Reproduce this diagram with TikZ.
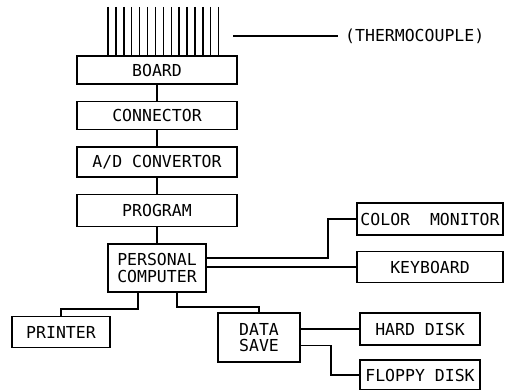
\documentclass[tikz,border=0pt]{standalone}
\usepackage{fontspec}
\setmonofont{DejaVu Sans Mono}
\usetikzlibrary{positioning}

\begin{document}
\begin{tikzpicture}[
    x=1pt, y=-1pt,
    every node/.style={font=\ttfamily\fontsize{16.5}{16.5}\selectfont},
    unit/.style={
      rectangle, draw, line width=1.5pt,
      inner sep=2pt, align=center,
      minimum height=28pt
    },
    wide/.style={unit, minimum width=160pt},
    link/.style={line width=1.5pt},
    wire/.style={line width=1.4pt},
  ]
  \useasboundingbox (0,0) rectangle (508,390);

  % --- Measuring chain ---
  \node[wide] (board) at (157,70) {BOARD};
  \node[wide, below=16pt of board] (connector) {CONNECTOR};
  \node[wide, below=16pt of connector, minimum height=30pt] (adconv) {A/D CONVERTOR};
  \node[wide, below=16pt of adconv, minimum height=32pt] (program) {PROGRAM};
  \node[unit, below=16pt of program, minimum width=98pt, minimum height=48pt] (pc)
    {PERSONAL\\COMPUTER};

  % --- Peripherals ---
  \node[unit, minimum width=146pt, minimum height=32pt] (monitor) at (430,219)
    {COLOR~~MONITOR};
  \node[unit, minimum width=146pt, minimum height=31pt] (keyboard) at (430,267)
    {KEYBOARD};
  \node[unit, minimum width=98pt, minimum height=31pt] (printer) at (61,332)
    {PRINTER};
  \node[unit, minimum width=82pt, minimum height=49pt] (datasave) at (259,337.5)
    {DATA\\SAVE};
  \node[unit, minimum width=120pt, minimum height=32pt] (harddisk) at (420,329)
    {HARD DISK};
  \node[unit, minimum width=120pt, minimum height=30pt] (floppy) at (420,375)
    {FLOPPY DISK};

  % --- Thermocouple wires ---
  \foreach \i in {0,...,14}
    \draw[wire] ({108+7.9*\i},7) -- ({108+7.9*\i},0 |- board.north);
  \coordinate (tcend) at (233,36);
  \node[anchor=west, inner sep=0pt] (thermo) at (345,36) {(THERMOCOUPLE)};
  \draw[wire] (tcend) -- ([xshift=-7pt]thermo.west);

  % --- Links ---
  \draw[link] (board) -- (connector);
  \draw[link] (connector) -- (adconv);
  \draw[link] (adconv) -- (program);
  \draw[link] (program) -- (pc);

  \draw[link] ([yshift=10pt]pc.east) -- ++(121,0) |- (monitor.west);
  \draw[link] (keyboard.west -| pc.east) -- (keyboard.west);

  \draw[link] ([xshift=-19pt]pc.south) -- ++(0,16) -| (printer.north);
  \draw[link] ([xshift=20pt]pc.south) -- ++(0,14) -| (datasave.north);

  \draw[link] (harddisk.west -| datasave.east) -- (harddisk.west);
  \draw[link] ([yshift=-8pt]datasave.east) -- ++(30,0) |- (floppy.west);

\end{tikzpicture}
\end{document}
